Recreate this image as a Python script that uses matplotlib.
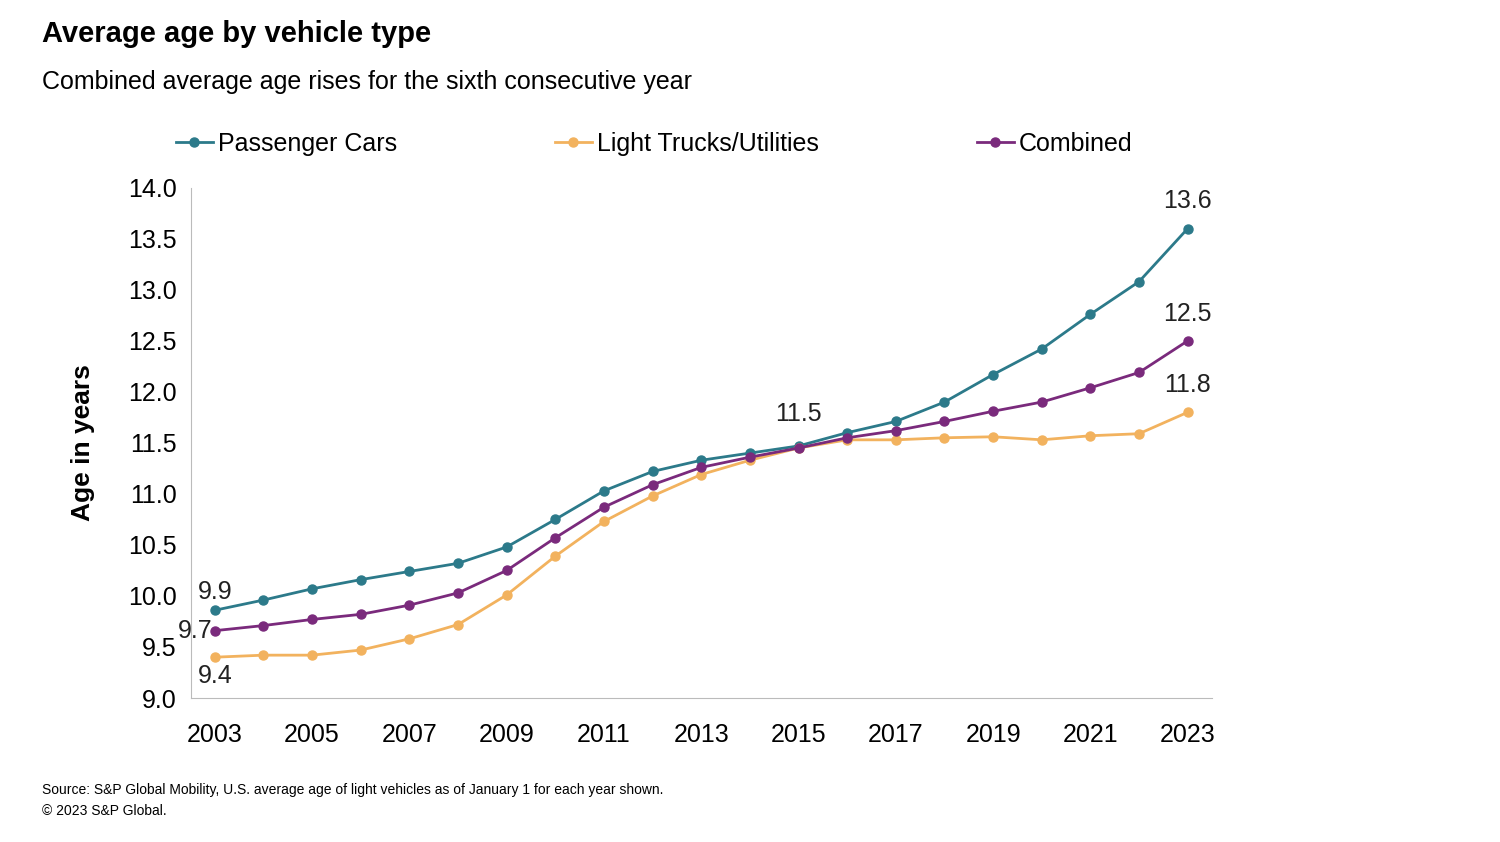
import matplotlib
matplotlib.use("Agg")
import matplotlib.pyplot as plt

years = list(range(2003, 2024))
cars = [9.86, 9.96, 10.07, 10.16, 10.24, 10.32, 10.48, 10.75, 11.03, 11.22, 11.33, 11.40, 11.47, 11.60, 11.71, 11.90, 12.17, 12.42, 12.76, 13.08, 13.60]
trucks = [9.40, 9.42, 9.42, 9.47, 9.58, 9.72, 10.01, 10.39, 10.73, 10.98, 11.19, 11.33, 11.45, 11.53, 11.53, 11.55, 11.56, 11.53, 11.57, 11.59, 11.80]
combined = [9.66, 9.71, 9.77, 9.82, 9.91, 10.03, 10.25, 10.57, 10.87, 11.09, 11.26, 11.36, 11.45, 11.55, 11.62, 11.71, 11.81, 11.90, 12.04, 12.19, 12.50]

c_car, c_tr, c_co = "#2C7A8A", "#F2B25E", "#7A2A7C"
plt.rcParams['font.family'] = ['Liberation Sans', 'DejaVu Sans']
fig = plt.figure(figsize=(15, 8.42), dpi=100)
ax = fig.add_axes([0.127, 0.171, 0.681, 0.606])
ax.plot(years, cars, '-o', color=c_car, lw=2, ms=6.5, label="Passenger Cars")
ax.plot(years, trucks, '-o', color=c_tr, lw=2, ms=6.5, label="Light Trucks/Utilities")
ax.plot(years, combined, '-o', color=c_co, lw=2, ms=6.5, label="Combined")
ax.set_xlim(2002.5, 2023.5)
ax.set_ylim(9.0, 14.0)
ax.set_xticks(years[::2])
ax.set_yticks([9 + 0.5 * i for i in range(11)])
ax.yaxis.set_major_formatter(matplotlib.ticker.FormatStrFormatter('%.1f'))
ax.tick_params(labelsize=18, length=0, pad=10)
ax.tick_params(axis='x', pad=18)
for s in ['top', 'right']:
    ax.spines[s].set_visible(False)
for s in ['left', 'bottom']:
    ax.spines[s].set_color('#BBBBBB')
ax.set_ylabel("Age in years", fontsize=19, fontweight='bold', labelpad=24)
fs = 18
ax.text(2003, cars[0] + 0.06, f"{cars[0]:.1f}", fontsize=fs, ha='center', va='bottom', color='#222')
ax.text(2002.6, combined[0], f"{combined[0]:.1f}", fontsize=fs, ha='center', va='center', color='#222')
ax.text(2003, trucks[0] - 0.07, f"{trucks[0]:.1f}", fontsize=fs, ha='center', va='top', color='#222')
ax.text(2015, cars[12] + 0.2, f"{cars[12]:.1f}", fontsize=fs, ha='center', va='bottom', color='#222')
ax.text(2023, cars[-1] + 0.15, f"{cars[-1]:.1f}", fontsize=fs, ha='center', va='bottom', color='#222')
ax.text(2023, combined[-1] + 0.15, f"{combined[-1]:.1f}", fontsize=fs, ha='center', va='bottom', color='#222')
ax.text(2023, trucks[-1] + 0.15, f"{trucks[-1]:.1f}", fontsize=fs, ha='center', va='bottom', color='#222')
fig.legend(loc='upper left', bbox_to_anchor=(0.102, 0.87), ncol=3, frameon=False,
           fontsize=18, handlelength=1.5, handletextpad=0.2, columnspacing=6.3)
fig.text(0.028, 0.96, "Average age by vehicle type", fontsize=21, fontweight='bold', va='center')
fig.text(0.028, 0.903, "Combined average age rises for the sixth consecutive year", fontsize=18, va='center')
fig.text(0.028, 0.062, "Source: S&P Global Mobility, U.S. average age of light vehicles as of January 1 for each year shown.", fontsize=10, va='center')
fig.text(0.028, 0.037, "© 2023 S&P Global.", fontsize=10, va='center')
fig.savefig("out.png", dpi=100, facecolor='white')
